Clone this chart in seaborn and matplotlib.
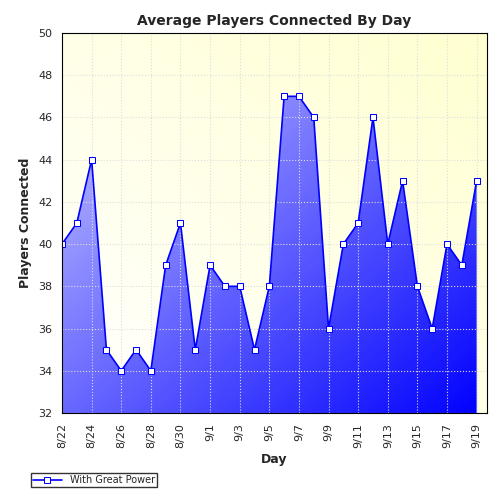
import numpy as np
import pandas as pd
import matplotlib
matplotlib.use('Agg')
import matplotlib.pyplot as plt
import seaborn as sns
from matplotlib.colors import LinearSegmentedColormap

days = ['8/22', '8/23', '8/24', '8/25', '8/26', '8/27', '8/28', '8/29', '8/30', '8/31',
        '9/1', '9/2', '9/3', '9/4', '9/5', '9/6', '9/7', '9/8', '9/9', '9/10',
        '9/11', '9/12', '9/13', '9/14', '9/15', '9/16', '9/17', '9/18', '9/19']
players = [40, 41, 44, 35, 34, 35, 34, 39, 41, 35,
           39, 38, 38, 35, 38, 47, 47, 46, 36, 40,
           41, 46, 40, 43, 38, 36, 40, 39, 43]

df = pd.DataFrame({'idx': range(len(days)), 'day': days, 'players': players})

sns.set_style('white')
plt.rcParams['font.family'] = ['DejaVu Sans']
fig = plt.figure(figsize=(5, 5), dpi=100)
ax = fig.add_axes([0.124, 0.174, 0.85, 0.76])

xmax = len(days) - 1 + 0.7
# background gradient: white bottom-left to pale yellow top-right
gx, gy = np.meshgrid(np.linspace(0, 1, 100), np.linspace(0, 1, 100))
g = (gx + gy) / 2
bg = LinearSegmentedColormap.from_list('bg', ['#ffffff', '#ffffd0'])
ax.imshow(g, cmap=bg, extent=[0, xmax, 32, 50], origin='lower', aspect='auto', zorder=0)

# area gradient: lavender top-left to blue bottom-right
fg = LinearSegmentedColormap.from_list('fg', ['#d0d0ff', '#0000ff'])
g2 = (gx + (1 - gy)) / 2
poly = ax.fill_between(df['idx'], df['players'], 32, color='none')
im = ax.imshow(g2, cmap=fg, extent=[0, xmax, 32, 50], origin='lower', aspect='auto', zorder=1)
path = poly.get_paths()[0]
im.set_clip_path(path, transform=ax.transData)

sns.lineplot(data=df, x='idx', y='players', ax=ax, color='#0000ff', lw=1.2, marker='s',
             markersize=5, markerfacecolor='white', markeredgecolor='#0000ff',
             label='With Great Power', zorder=3)

ax.set_xlim(0, xmax)
ax.set_ylim(32, 50)
ax.set_yticks(range(32, 51, 2))
ax.set_xticks(df['idx'][::2])
ax.set_xticklabels(days[::2], rotation=90, fontsize=8)
ax.tick_params(axis='y', labelsize=8)
ax.grid(True, color='#dddddd', linestyle=':', lw=0.8)
ax.set_axisbelow(False)
for s in ax.spines.values():
    s.set_color('black')
    s.set_zorder(5)
ax.set_title('Average Players Connected By Day', fontsize=10, fontweight='bold')
ax.set_xlabel('Day', fontsize=9, fontweight='bold')
ax.set_ylabel('Players Connected', fontsize=9, fontweight='bold')
ax.legend(loc='upper left', bbox_to_anchor=(-0.085, -0.145), fontsize=7, frameon=True,
          fancybox=False, edgecolor='black', borderpad=0.2, handlelength=3)

fig.savefig('out.png', dpi=100)
